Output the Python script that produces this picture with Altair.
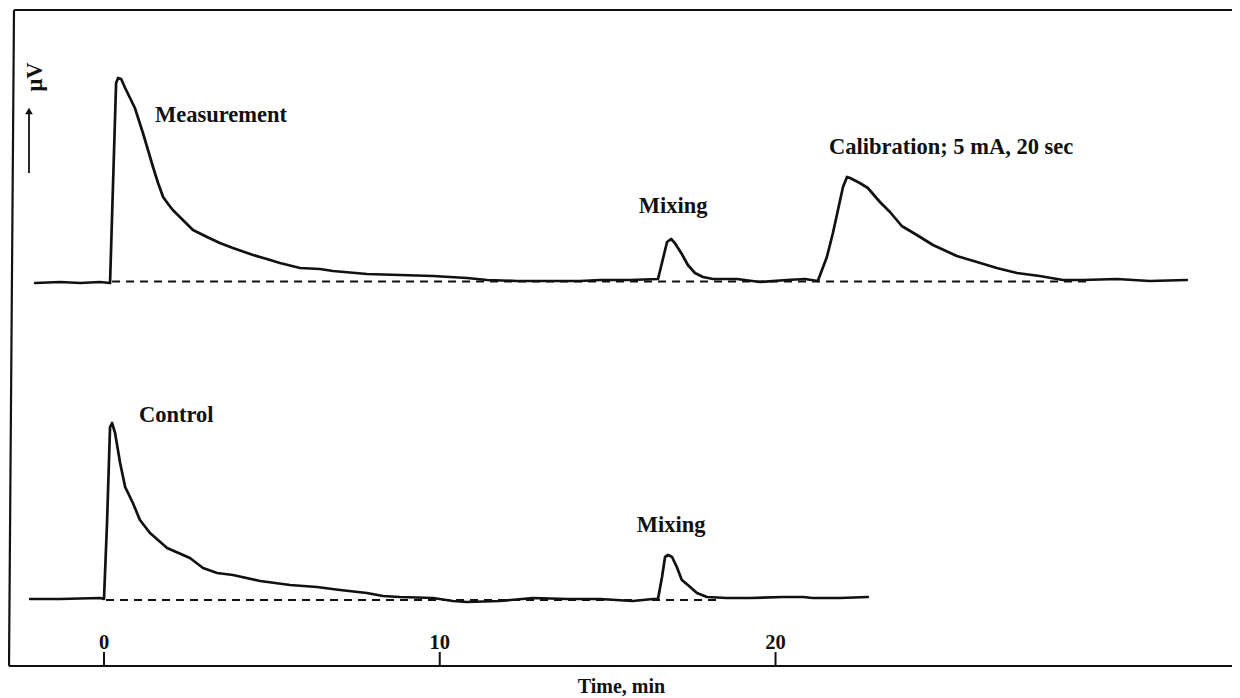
import altair as alt
import pandas as pd

# ---- data (time in min, deflection in arbitrary μV units) ----
meas_t = [-2.05, -1.31, -0.71, -0.12, 0.18, 0.36, 0.42, 0.51, 0.63, 0.92, 1.16, 1.31, 1.46,
          1.61, 1.76, 1.91, 2.05, 2.35, 2.65, 3.07, 3.45, 3.84, 4.44, 4.85, 5.24, 5.84, 6.43,
          6.82, 7.83, 8.81, 9.80, 10.81, 11.41, 12.30, 13.28, 14.18, 14.77, 15.66, 16.50,
          16.77, 16.89, 17.00, 17.21, 17.39, 17.60, 17.84, 18.14, 18.85, 19.54, 20.34, 20.88,
          21.26, 21.53, 21.71, 21.86, 22.01, 22.13, 22.22, 22.51, 22.75, 23.11, 23.41, 23.76,
          24.21, 24.69, 25.40, 26.00, 26.59, 27.19, 27.87, 28.56, 29.15, 30.17, 31.15, 32.25]
meas_v = [-1.5, -0.5, -1.5, -0.5, -1.5, 198.5, 203.5, 202.5, 193.5, 173.5, 148.5, 131.5, 114.5,
          98.5, 84.5, 77.5, 71.5, 61.5, 51.5, 44.5, 38.5, 33.5, 26.5, 22.5, 18.5, 13.5, 12.5,
          10.5, 7.5, 6.5, 5.5, 3.5, 1.5, 0.5, 0.5, 0.5, 1.5, 1.5, 2.5,
          39.5, 42.5, 38.5, 27.5, 16.5, 8.5, 4.5, 2.5, 2.5, -0.5, 1.5, 2.5,
          0.5, 24.5, 48.5, 71.5, 94.5, 104.5, 103.5, 98.5, 93.5, 79.5, 69.5, 55.5,
          46.5, 36.5, 25.5, 19.5, 13.5, 8.5, 5.5, 1.5, 1.5, 2.5, 0.5, 1.5]

ctrl_t = [-2.20, -1.31, -0.12, 0.00, 0.09, 0.18, 0.24, 0.33, 0.48, 0.63, 0.86, 1.07, 1.37,
          1.88, 2.56, 2.95, 3.37, 3.84, 4.65, 5.54, 6.34, 7.03, 7.83, 8.31, 8.81, 9.80,
          10.39, 10.81, 11.79, 12.78, 13.79, 14.77, 15.75, 16.35, 16.50, 16.62, 16.71, 16.80,
          16.92, 17.06, 17.21, 17.39, 17.66, 17.96, 18.55, 19.24, 20.22, 20.82, 21.11, 21.92,
          22.75]
ctrl_v = [1, 1, 2, 1, 77, 173, 177, 167, 137, 113, 97, 80, 67,
          52, 42, 32, 27, 25, 19, 15, 13, 10, 7, 4, 3, 2,
          -1, -2, -1, 2, 1, 1, -1, 1, 1, 23, 43, 45,
          43, 33, 20, 15, 7, 3, 2, 2, 3, 3, 2, 2,
          3]

MEAS_OFFSET = 318.5          # vertical separation of the two recorder traces

# dashed base lines: start, end (min)
base_start = [0.24, 0.06]
base_end = [29.4, 18.35]
base_level = [MEAS_OFFSET, 0]

tick_vals = [0, 10, 20]
tick_labels = ["0", "10", "20"]

label_text = ["Measurement", "Mixing", "Calibration; 5 mA, 20 sec", "Control", "Mixing"]
label_t = [1.52, 15.93, 21.59, 1.04, 15.87]
label_v = [478, 387, 446, 178, 68]

# ---- layout ----
W, H = 1221, 656
X_DOM = [-2.770, 33.596]
Y_DOM = [-66, 590]
FONT = "Liberation Serif"
FS = 22.5
INK = "#111111"

xs = alt.Scale(domain=X_DOM, nice=False, zero=False)
ys = alt.Scale(domain=Y_DOM, nice=False, zero=False)
x_axis = alt.Axis(domain=False, ticks=False, labels=False, grid=False,
                  title="Time, min", titleFont=FONT, titleFontSize=20,
                  titleFontWeight="bold", titleColor=INK,
                  titleX=610, titleY=26, titleBaseline="alphabetic")


def X(field):
    return alt.X(field, scale=xs, axis=x_axis)


def Y(field):
    return alt.Y(field, scale=ys, axis=None)


df_trace = pd.concat([
    pd.DataFrame({"t": meas_t, "v": [v + MEAS_OFFSET for v in meas_v], "trace": "Measurement",
                  "i": list(range(len(meas_t)))}),
    pd.DataFrame({"t": ctrl_t, "v": ctrl_v, "trace": "Control",
                  "i": list(range(len(ctrl_t)))}),
], ignore_index=True)
df_base = pd.DataFrame({"t": base_start, "t2": base_end, "v": base_level})
df_ticks = pd.DataFrame({"t": tick_vals, "lab": tick_labels})
df_labels = pd.DataFrame({"txt": label_text, "t": label_t, "v": label_v})
one = pd.DataFrame({"a": [0]})

traces = alt.Chart(df_trace).mark_line(
    color=INK, strokeWidth=2.7, strokeJoin="round", strokeCap="round"
).encode(x=X("t:Q"), y=Y("v:Q"), detail="trace:N", order="i:Q")

bases = alt.Chart(df_base).mark_rule(
    color=INK, strokeWidth=2.2, strokeDash=[8, 6]
).encode(x=X("t:Q"), x2="t2:Q", y=Y("v:Q"))

ticks = alt.Chart(df_ticks).mark_rule(color=INK, strokeWidth=2).encode(
    x=X("t:Q"), y=alt.value(H - 14), y2=alt.value(H)
)
tick_text = alt.Chart(df_ticks).mark_text(
    font=FONT, fontSize=20.5, fontWeight="bold", color=INK, baseline="alphabetic", align="center"
).encode(x=X("t:Q"), y=alt.value(H - 17), text="lab:N")

labels = alt.Chart(df_labels).mark_text(
    font=FONT, fontSize=FS, fontWeight="bold", color=INK, baseline="alphabetic", align="left"
).encode(x=X("t:Q"), y=Y("v:Q"), text="txt:N")

# frame (open on the right, as in the scan)
frame_top = alt.Chart(one).mark_rule(color=INK, strokeWidth=2.2).encode(
    x=alt.value(3), x2=alt.value(W), y=alt.value(0))
frame_bottom = alt.Chart(one).mark_rule(color=INK, strokeWidth=2.2).encode(
    x=alt.value(-2), x2=alt.value(W), y=alt.value(H))
frame_left = alt.Chart(one).mark_rule(color=INK, strokeWidth=2.2).encode(
    x=alt.value(3), x2=alt.value(-2), y=alt.value(0), y2=alt.value(H))

# y-axis unit and arrow
unit = alt.Chart(one).mark_text(
    text="μV", font=FONT, fontSize=FS, fontWeight="bold", color=INK, angle=270,
    align="center", baseline="middle"
).encode(x=alt.value(24), y=alt.value(67))
arrow_shaft = alt.Chart(one).mark_rule(color=INK, strokeWidth=1.8).encode(
    x=alt.value(18), y=alt.value(102), y2=alt.value(163))
arrow_head = alt.Chart(one).mark_point(
    shape="triangle-up", filled=True, color=INK, size=60, opacity=1
).encode(x=alt.value(18), y=alt.value(101))

chart = alt.layer(
    traces, bases, ticks, tick_text, labels,
    frame_top, frame_bottom, frame_left, unit, arrow_shaft, arrow_head
).properties(
    width=W, height=H,
    autosize=alt.AutoSizeParams(type="none"),
    padding={"left": 3, "top": 2, "right": 0, "bottom": 32},
    background="white",
).configure_view(strokeWidth=0)

chart.save("out.html", embed_options={"renderer": "svg", "actions": False})
